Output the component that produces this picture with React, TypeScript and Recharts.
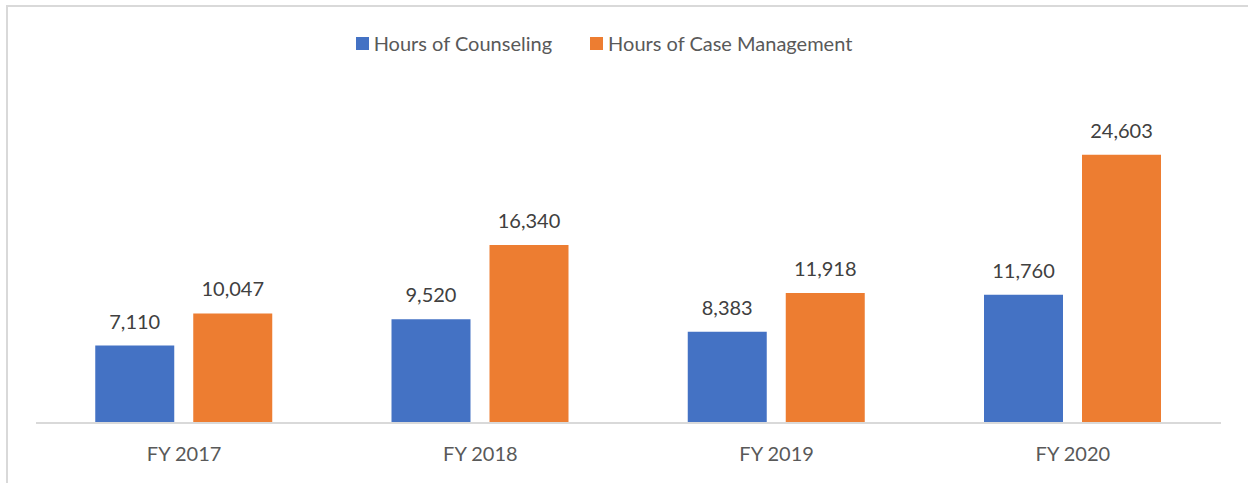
import { BarChart, Bar, XAxis, YAxis, Legend, LabelList } from 'recharts';

const years = ['FY 2017', 'FY 2018', 'FY 2019', 'FY 2020'];
const counseling = [7110, 9520, 8383, 11760];
const caseManagement = [10047, 16340, 11918, 24603];

const seriesNames = ['Hours of Counseling', 'Hours of Case Management'];
const seriesColors = ['#4472C4', '#ED7D31'];

const data = years.map((year, i) => ({
  year,
  counseling: counseling[i],
  caseManagement: caseManagement[i],
}));

const FONT = 'Lato, "Open Sans", sans-serif';
const TEXT = '#595959';

const fmt = (v: number) => v.toLocaleString('en-US');

function renderLegend() {
  return (
    <div style={{ display: 'flex', justifyContent: 'center', alignItems: 'center', height: 30, gap: 38, fontFamily: FONT, fontSize: 20, color: TEXT }}>
      {seriesNames.map((name, i) => (
        <div key={name} style={{ display: 'flex', alignItems: 'center' }}>
          <span style={{ display: 'inline-block', width: 13, height: 13, background: seriesColors[i], marginRight: 5 }} />
          <span>{name}</span>
        </div>
      ))}
    </div>
  );
}

export default function App() {
  return (
    <div style={{ position: 'fixed', left: 0, top: 0, width: 1248, height: 483, overflow: 'hidden', background: '#fff' }}>
      <div style={{ position: 'absolute', left: 6, top: 5, width: 1300, height: 600, borderLeft: '2px solid #d9d9d9', borderTop: '2px solid #d9d9d9' }} />
      <div style={{ position: 'absolute', left: 0, top: 0 }}>
        <BarChart
          width={1248}
          height={483}
          data={data}
          margin={{ top: 66, right: 27, bottom: 0, left: 36 }}
          barCategoryGap="20%"
          barGap={19}
        >
          <XAxis
            dataKey="year"
            height={60}
            tickLine={false}
            axisLine={{ stroke: '#d9d9d9', strokeWidth: 2 }}
            tick={{ fill: TEXT, fontSize: 20, fontFamily: FONT }}
            tickMargin={18}
          />
          <YAxis hide domain={[0, 30000]} />
          <Legend verticalAlign="top" content={renderLegend} wrapperStyle={{ top: 28, left: 0, width: 1208 }} />
          <Bar dataKey="counseling" name={seriesNames[0]} fill={seriesColors[0]} isAnimationActive={false}>
            <LabelList dataKey="counseling" position="top" offset={17} formatter={(v: any) => fmt(v)} style={{ fill: '#404040', fontSize: 20, fontFamily: FONT }} />
          </Bar>
          <Bar dataKey="caseManagement" name={seriesNames[1]} fill={seriesColors[1]} isAnimationActive={false}>
            <LabelList dataKey="caseManagement" position="top" offset={17} formatter={(v: any) => fmt(v)} style={{ fill: '#404040', fontSize: 20, fontFamily: FONT }} />
          </Bar>
        </BarChart>
      </div>
    </div>
  );
}
